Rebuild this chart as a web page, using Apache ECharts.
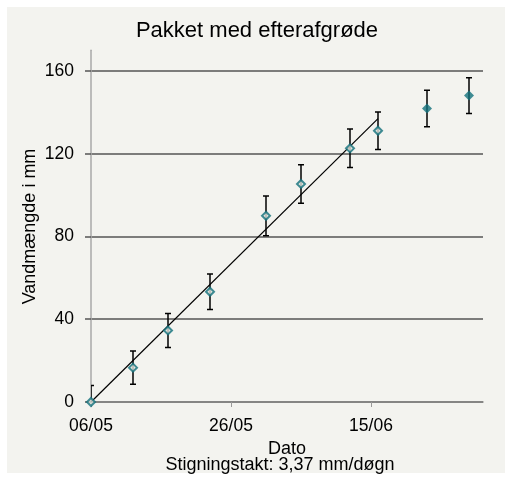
<!DOCTYPE html>
<html>
<head>
<meta charset="utf-8">
<script src="https://cdn.jsdelivr.net/npm/echarts@6/dist/echarts.min.js"></script>
<style>html,body{margin:0;padding:0;background:#fff;}#c{width:514px;height:480px;}</style>
</head>
<body>
<div id="c"></div>
<script>
// Days after 06/05
var days = [0, 6, 11, 17, 25, 30, 37, 41, 48, 54];
var values = [0, 16.6, 34.6, 53.3, 90.0, 105.4, 122.6, 131.1, 141.9, 148.1];
var errors = [8, 8, 8.2, 8.6, 9.6, 9.3, 9.3, 9.1, 8.8, 8.6];
var usedInFit = [true, true, true, true, true, true, true, true, false, false];
var trendX = [0, 41];
var trendY = [0, 137];
var xTickDays = [0, 20, 40];
var xTickLabels = ['06/05', '26/05', '15/06'];
var yTicks = [0, 40, 80, 120, 160];
var titleText = 'Pakket med efterafgrøde';
var yName = 'Vandmængde i mm';
var xName = 'Dato';
var slopeText = 'Stigningstakt: 3,37 mm/døgn';

var teal = '#12707c';
var font = 'Liberation Sans, Arial, sans-serif';

var hollow = [], filled = [], errData = [];
for (var i = 0; i < days.length; i++) {
  if (usedInFit[i]) hollow.push([days[i], values[i]]); else filled.push([days[i], values[i]]);
  errData.push([days[i], values[i] - errors[i], values[i] + errors[i]]);
}
var trend = trendX.map(function (x, i) { return [x, trendY[i]]; });

var chart = echarts.init(document.getElementById('c'), null, {renderer: 'canvas'});
chart.setOption({
  backgroundColor: '#ffffff',
  animation: false,
  graphic: [
    {type: 'rect', z: -10, silent: true, shape: {x: 7, y: 7, width: 498, height: 466}, style: {fill: '#f3f3ef'}},
    {type: 'text', z: 5, x: 257, y: 30.5,
      style: {text: titleText, fontFamily: font, fontSize: 22, fill: '#000', align: 'center', verticalAlign: 'middle'}},
    {type: 'text', z: 5, rotation: Math.PI / 2, x: 30.5, y: 226.5,
      style: {text: yName, fontFamily: font, fontSize: 18, fill: '#000', align: 'center', verticalAlign: 'middle'}},
    {type: 'text', z: 5, x: 287, y: 449.5,
      style: {text: xName, fontFamily: font, fontSize: 18, fill: '#000', align: 'center', verticalAlign: 'middle'}},
    {type: 'text', z: 5, x: 280, y: 465.5,
      style: {text: slopeText, fontFamily: font, fontSize: 18, fill: '#000', align: 'center', verticalAlign: 'middle'}}
  ],
  grid: {left: 91, right: 31, top: 50.3, bottom: 78, containLabel: false},
  xAxis: {
    type: 'value', min: 0, max: 56,
    axisLine: {show: true, onZero: false, lineStyle: {color: '#888', width: 1.5}},
    axisTick: {show: true, customValues: xTickDays, length: 5, inside: false, lineStyle: {color: '#999', width: 1}},
    axisLabel: {customValues: xTickDays, margin: 15, fontFamily: font, fontSize: 17.5, color: '#000',
      formatter: function (v) { var k = xTickDays.indexOf(v); return k >= 0 ? xTickLabels[k] : ''; }},
    splitLine: {show: false}
  },
  yAxis: {
    type: 'value', min: 0, max: 170,
    axisLine: {show: true, onZero: false, lineStyle: {color: '#a8a8a8', width: 1.5}},
    axisTick: {show: true, customValues: yTicks, length: 6, lineStyle: {color: '#555', width: 1.5}},
    axisLabel: {customValues: yTicks, margin: 17, fontFamily: font, fontSize: 17.5, color: '#000'},
    splitLine: {show: true, lineStyle: {color: '#555', width: 1.5}}
  },
  series: [
    {
      type: 'custom', z: 3, clip: true, data: errData,
      renderItem: function (params, api) {
        var x = api.value(0);
        var lo = api.coord([x, api.value(1)]);
        var hi = api.coord([x, api.value(2)]);
        var w = 3;
        var style = {stroke: '#000', lineWidth: 1.5};
        return {type: 'group', children: [
          {type: 'line', shape: {x1: lo[0], y1: lo[1], x2: hi[0], y2: hi[1]}, style: style},
          {type: 'line', shape: {x1: lo[0] - w, y1: lo[1], x2: lo[0] + w, y2: lo[1]}, style: style},
          {type: 'line', shape: {x1: hi[0] - w, y1: hi[1], x2: hi[0] + w, y2: hi[1]}, style: style}
        ]};
      }
    },
    {
      type: 'line', z: 4, data: trend, showSymbol: false, symbol: 'none',
      lineStyle: {color: '#000', width: 1.2}, clip: true
    },
    {
      type: 'scatter', z: 5, data: hollow, symbol: 'diamond', symbolSize: 8, clip: false,
      itemStyle: {color: '#dfe2dc', borderColor: teal, borderWidth: 2}
    },
    {
      type: 'scatter', z: 5, data: filled, symbol: 'diamond', symbolSize: 10, clip: false,
      itemStyle: {color: teal}
    }
  ]
});
</script>
</body>
</html>
